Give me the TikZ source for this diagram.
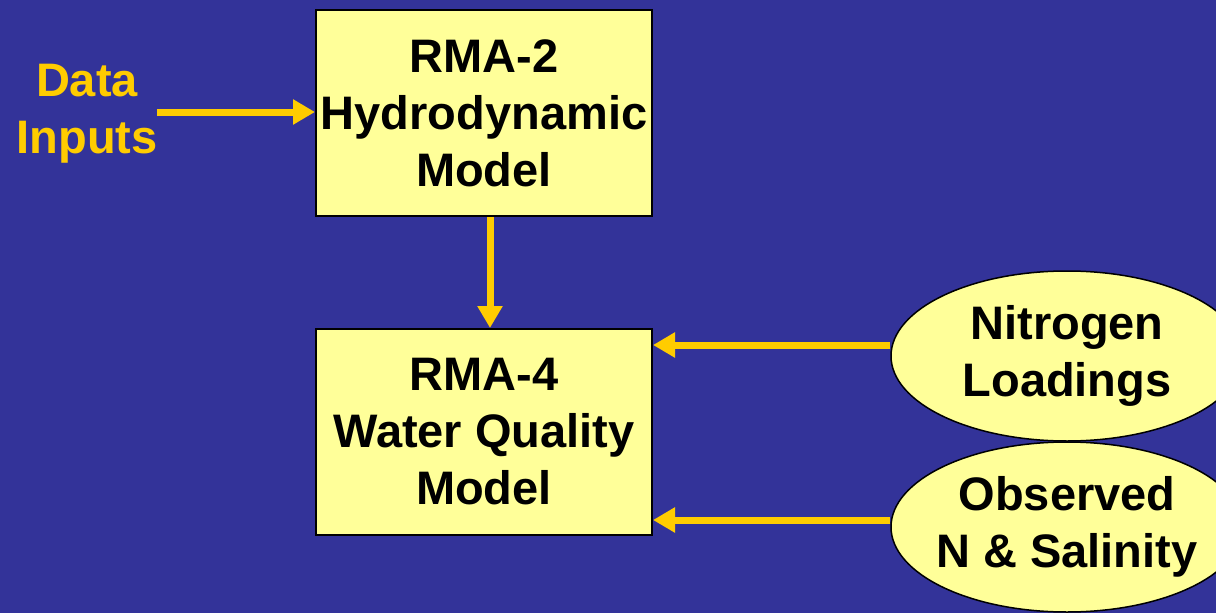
\documentclass[tikz,border=0pt]{standalone}
\usepackage{fontspec}
\setmainfont{Liberation Sans}
\usetikzlibrary{arrows.meta,shapes.geometric}
\definecolor{bg}{HTML}{333399}
\definecolor{boxfill}{HTML}{FFFF99}
\definecolor{arrowc}{HTML}{FFCC00}
\tikzset{
  txt/.style={font=\fontsize{47}{57}\selectfont\bfseries, align=center, text=black},
  modelbox/.style={txt, draw=black, line width=2pt, fill=boxfill, minimum width=336pt, minimum height=206pt, inner sep=0pt},
  oval/.style={txt, ellipse, draw=black, line width=1.5pt, fill=boxfill, minimum width=352pt, minimum height=170pt, inner sep=0pt, inner xsep=-20pt},
  arr/.style={draw=arrowc, line width=7pt, -{Triangle[length=22pt,width=24pt]}},
}
\begin{document}
\begin{tikzpicture}[x=1pt,y=-1pt]
\useasboundingbox (0,0) rectangle (1216,613);
\fill[bg] (0,0) rectangle (1216,613);
\clip (0,0) rectangle (1216,613);
\node[modelbox] (b1) at (484,113) {RMA-2\\Hydrodynamic\\Model};
\node[modelbox] (b2) at (484,432) {RMA-4\\Water Quality\\Model};
\node[oval] (n1) at (1067,356) {Nitrogen\\Loadings};
\node[oval] (n2) at (1067,527) {Observed\\N \& Salinity};
\node[txt, text=arrowc] (d) at (87,114) {Data\\Inputs};
\coordinate (ds) at (157,112);
\draw[arr] (ds) -- (ds -| b1.west);
\draw[arr] (b1.south -| 490,0) -- (b2.north -| 490,0);
\draw[arr] ([yshift=11pt]n1.west) -- ([yshift=11pt]n1.west -| b2.east);
\draw[arr] ([yshift=7pt]n2.west) -- ([yshift=7pt]n2.west -| b2.east);
\end{tikzpicture}
\end{document}
